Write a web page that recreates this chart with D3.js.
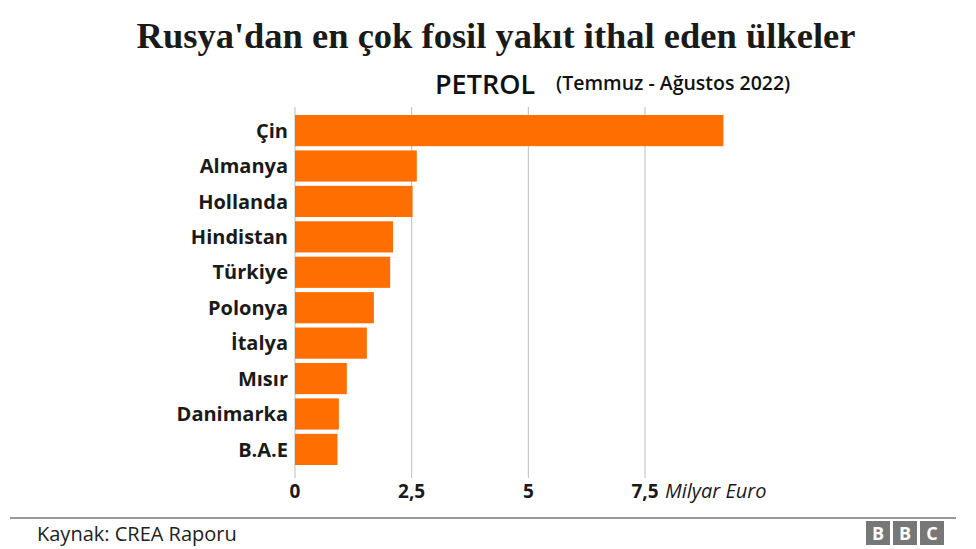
<!DOCTYPE html>
<html>
<head>
<meta charset="utf-8">
<script src="https://cdn.jsdelivr.net/npm/d3@7"></script>
<style>
  body { margin: 0; background: #fff; }
  text { font-family: "Open Sans", "Noto Sans", sans-serif; }
</style>
</head>
<body>
<script>
var countries = ['Çin', 'Almanya', 'Hollanda', 'Hindistan', 'Türkiye', 'Polonya', 'İtalya', 'Mısır', 'Danimarka', 'B.A.E'];
var values = [9.18, 2.61, 2.52, 2.10, 2.04, 1.69, 1.54, 1.11, 0.94, 0.91];
var tickValues = [0, 2.5, 5, 7.5];
var tickLabels = ['0', '2,5', '5', '7,5'];

var svgWidth = 976;
var svgHeight = 549;

var svg = d3.select('body')
  .append('svg')
  .attr('width', svgWidth)
  .attr('height', svgHeight);

// title
svg.append('text')
  .attr('x', 496)
  .attr('y', 48)
  .attr('text-anchor', 'middle')
  .style('font-family', '"Liberation Serif", serif')
  .style('font-weight', 'bold')
  .style('font-size', '36.5px')
  .attr('fill', '#1a1a1a')
  .text("Rusya'dan en çok fosil yakıt ithal eden ülkeler");

svg.append('text')
  .attr('x', 435)
  .attr('y', 94)
  .style('font-weight', '600')
  .style('font-size', '27px')
  .attr('fill', '#111')
  .text('PETROL');

svg.append('text')
  .attr('x', 556)
  .attr('y', 90)
  .style('font-size', '19.5px')
  .style('font-weight', '600')
  .attr('fill', '#111')
  .text('(Temmuz - Ağustos 2022)');

var x = d3.scaleLinear().domain([0, 7.5]).range([295, 645]);
var y = d3.scaleBand().domain(countries).range([115, 465]).paddingInner(0.12).paddingOuter(0.0);

// gridlines
svg.selectAll('line.grid')
  .data(tickValues)
  .enter()
  .append('line')
  .attr('class', 'grid')
  .attr('x1', function(d) { return x(d); })
  .attr('x2', function(d) { return x(d); })
  .attr('y1', 107)
  .attr('y2', 478)
  .attr('stroke', '#bdbdbd')
  .attr('stroke-width', 1);

// bars
svg.selectAll('rect.bar')
  .data(values)
  .enter()
  .append('rect')
  .attr('class', 'bar')
  .attr('x', x(0))
  .attr('y', function(d, i) { return y(countries[i]); })
  .attr('width', function(d) { return x(d) - x(0); })
  .attr('height', y.bandwidth())
  .attr('fill', '#ff6e00');

// category labels
svg.selectAll('text.cat')
  .data(countries)
  .enter()
  .append('text')
  .attr('class', 'cat')
  .attr('x', 288)
  .attr('y', function(d) { return y(d) + y.bandwidth() / 2; })
  .attr('dy', '0.36em')
  .attr('text-anchor', 'end')
  .style('font-weight', 'bold')
  .style('font-size', '20px')
  .attr('fill', '#1a1a1a')
  .text(function(d) { return d; });

// tick labels
svg.selectAll('text.tick')
  .data(tickValues)
  .enter()
  .append('text')
  .attr('class', 'tick')
  .attr('x', function(d) { return x(d); })
  .attr('y', 498)
  .attr('text-anchor', 'middle')
  .style('font-weight', 'bold')
  .style('font-size', '19px')
  .attr('fill', '#1a1a1a')
  .text(function(d, i) { return tickLabels[i]; });

svg.append('text')
  .attr('x', 665)
  .attr('y', 498)
  .style('font-style', 'italic')
  .style('font-size', '20px')
  .attr('fill', '#1a1a1a')
  .text('Milyar Euro');

// footer
svg.append('line')
  .attr('x1', 10).attr('x2', 956)
  .attr('y1', 518).attr('y2', 518)
  .attr('stroke', '#333')
  .attr('stroke-width', 1.2);

svg.append('text')
  .attr('x', 37)
  .attr('y', 541)
  .style('font-size', '20px')
  .attr('fill', '#222')
  .text('Kaynak: CREA Raporu');

var bbc = ['B', 'B', 'C'];
var logo = svg.append('g').attr('transform', 'translate(866,521)');
logo.selectAll('rect')
  .data(bbc)
  .enter()
  .append('rect')
  .attr('x', function(d, i) { return i * 27; })
  .attr('y', 0)
  .attr('width', 24)
  .attr('height', 24)
  .attr('fill', '#777');
logo.selectAll('text')
  .data(bbc)
  .enter()
  .append('text')
  .attr('x', function(d, i) { return i * 27 + 12; })
  .attr('y', 19)
  .attr('text-anchor', 'middle')
  .style('font-weight', 'bold')
  .style('font-size', '18px')
  .attr('fill', '#fff')
  .text(function(d) { return d; });
</script>
</body>
</html>
